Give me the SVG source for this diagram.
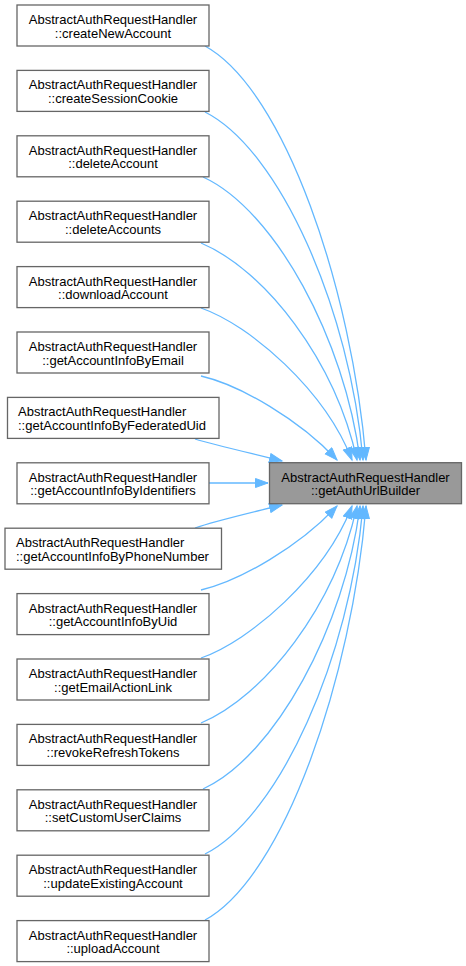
<svg xmlns="http://www.w3.org/2000/svg" width="466" height="966" viewBox="0 0 466 966">
<style>
.node rect{fill:#ffffff;stroke:#666666;stroke-width:1.3}
.node.target rect{fill:#999999}
text{font-family:"Liberation Sans",Arial,Helvetica,sans-serif;font-size:13px;fill:#000000}
.c{text-anchor:middle}
.edges path{fill:none;stroke:#63b8ff;stroke-width:1.3;marker-end:url(#arr)}
</style>
<defs>
<marker id="arr" markerUnits="userSpaceOnUse" markerWidth="16" markerHeight="12" refX="13" refY="5" orient="auto">
<path d="M0.5,0.5 L13,5 L0.5,9.5 z" fill="#63b8ff" stroke="#63b8ff" stroke-width="1"/>
</marker>
</defs>
<g class="edges">
<path d="M205,46 C285,90 352,290 366,460"/>
<path d="M205,112 C280,150 350,310 363,460"/>
<path d="M203,177 C275,210 345,340 360,460"/>
<path d="M201,243 C265,270 335,360 357,460"/>
<path d="M201,308 C250,325 325,390 352,460"/>
<path d="M201,376 C240,385 300,420 337,460"/>
<path d="M195,439 C215,445 250,453 282,461"/>
<path d="M209,483 L268,483"/>
<path d="M195,528 C215,521 250,513 282,505"/>
<path d="M201,590 C240,581 300,546 337,506"/>
<path d="M201,658 C250,641 325,576 352,506"/>
<path d="M201,723 C265,696 335,606 357,506"/>
<path d="M203,789 C275,756 345,626 360,506"/>
<path d="M205,854 C280,816 350,656 363,506"/>
<path d="M205,920 C285,876 352,676 366,506"/>
</g>
<g id="target" class="node target"><rect x="269.5" y="462.7" width="192" height="41"/><text class="c" x="365.5" y="481.7">AbstractAuthRequestHandler</text><text class="c" x="365.5" y="495.2">::getAuthUrlBuilder</text></g>
<g id="n0" class="node"><rect x="17" y="5" width="192" height="41"/><text class="c" x="113" y="24">AbstractAuthRequestHandler</text><text class="c" x="113" y="37.5">::createNewAccount</text></g>
<g id="n1" class="node"><rect x="17" y="70.4" width="192" height="41"/><text class="c" x="113" y="89.4">AbstractAuthRequestHandler</text><text class="c" x="113" y="102.9">::createSessionCookie</text></g>
<g id="n2" class="node"><rect x="17" y="135.8" width="192" height="41"/><text class="c" x="113" y="154.8">AbstractAuthRequestHandler</text><text class="c" x="113" y="168.3">::deleteAccount</text></g>
<g id="n3" class="node"><rect x="17" y="201.2" width="192" height="41"/><text class="c" x="113" y="220.2">AbstractAuthRequestHandler</text><text class="c" x="113" y="233.7">::deleteAccounts</text></g>
<g id="n4" class="node"><rect x="17" y="266.6" width="192" height="41"/><text class="c" x="113" y="285.6">AbstractAuthRequestHandler</text><text class="c" x="113" y="299.1">::downloadAccount</text></g>
<g id="n5" class="node"><rect x="17" y="332" width="192" height="41"/><text class="c" x="113" y="351">AbstractAuthRequestHandler</text><text class="c" x="113" y="364.5">::getAccountInfoByEmail</text></g>
<g id="n6" class="node"><rect x="7.5" y="397.4" width="211.5" height="41"/><text x="18" y="416.4">AbstractAuthRequestHandler</text><text x="18" y="429.9">::getAccountInfoByFederatedUid</text></g>
<g id="n7" class="node"><rect x="17" y="462.8" width="192" height="41"/><text class="c" x="113" y="481.8">AbstractAuthRequestHandler</text><text class="c" x="113" y="495.3">::getAccountInfoByIdentifiers</text></g>
<g id="n8" class="node"><rect x="5" y="528.2" width="216.5" height="41"/><text x="16" y="547.2">AbstractAuthRequestHandler</text><text x="16" y="560.7">::getAccountInfoByPhoneNumber</text></g>
<g id="n9" class="node"><rect x="17" y="593.6" width="192" height="41"/><text class="c" x="113" y="612.6">AbstractAuthRequestHandler</text><text class="c" x="113" y="626.1">::getAccountInfoByUid</text></g>
<g id="n10" class="node"><rect x="17" y="659" width="192" height="41"/><text class="c" x="113" y="678">AbstractAuthRequestHandler</text><text class="c" x="113" y="691.5">::getEmailActionLink</text></g>
<g id="n11" class="node"><rect x="17" y="724.4" width="192" height="41"/><text class="c" x="113" y="743.4">AbstractAuthRequestHandler</text><text class="c" x="113" y="756.9">::revokeRefreshTokens</text></g>
<g id="n12" class="node"><rect x="17" y="789.8" width="192" height="41"/><text class="c" x="113" y="808.8">AbstractAuthRequestHandler</text><text class="c" x="113" y="822.3">::setCustomUserClaims</text></g>
<g id="n13" class="node"><rect x="17" y="855.2" width="192" height="41"/><text class="c" x="113" y="874.2">AbstractAuthRequestHandler</text><text class="c" x="113" y="887.7">::updateExistingAccount</text></g>
<g id="n14" class="node"><rect x="17" y="920.6" width="192" height="41"/><text class="c" x="113" y="939.6">AbstractAuthRequestHandler</text><text class="c" x="113" y="953.1">::uploadAccount</text></g>
</svg>
